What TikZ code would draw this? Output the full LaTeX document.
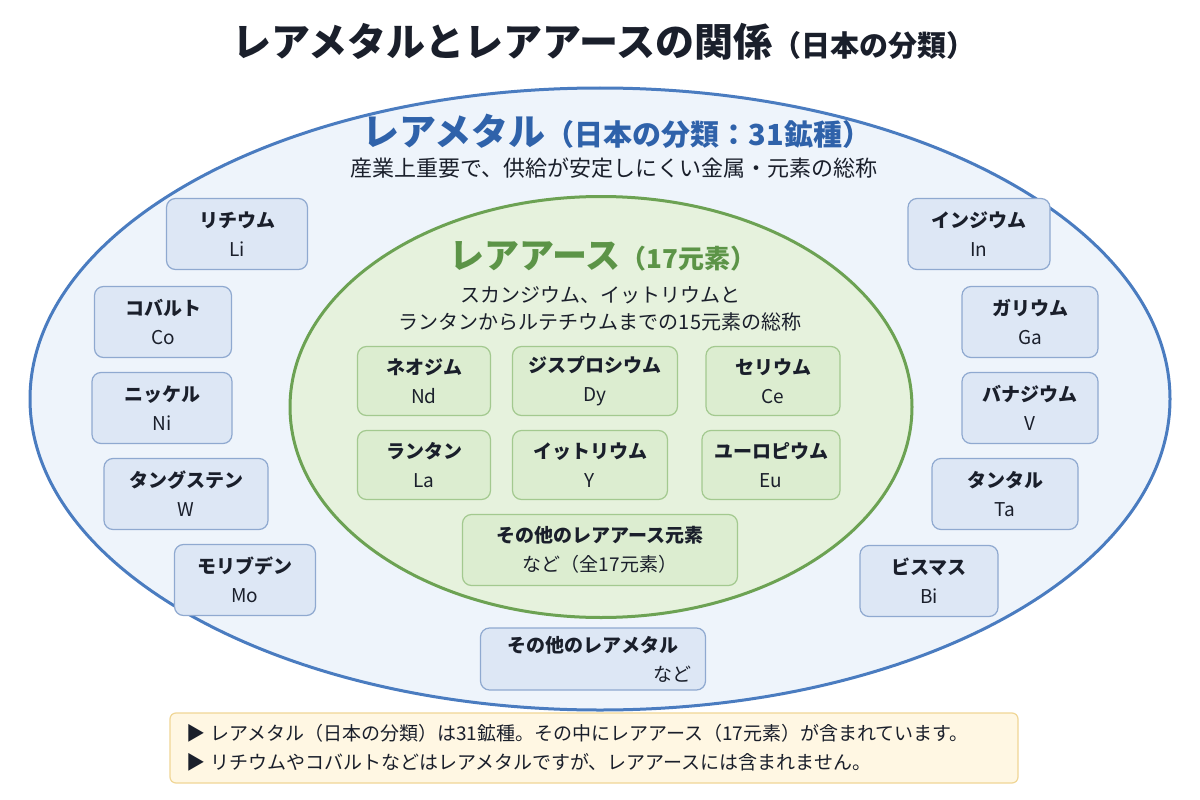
\documentclass[tikz,border=0pt]{standalone}
\usepackage{fontspec}
\setmainfont{Noto Sans CJK JP}
\usetikzlibrary{shapes.geometric, positioning}
\definecolor{metalline}{HTML}{4A7CC0}
\definecolor{metalfill}{HTML}{EEF4FB}
\definecolor{metaltext}{HTML}{2F62AA}
\definecolor{metalbox}{HTML}{DDE7F5}
\definecolor{metalboxline}{HTML}{8FA9D0}
\definecolor{earthline}{HTML}{6CA253}
\definecolor{earthfill}{HTML}{E6F2DD}
\definecolor{earthtext}{HTML}{5C9447}
\definecolor{earthbox}{HTML}{DCEDD0}
\definecolor{earthboxline}{HTML}{A3C98F}
\definecolor{notefill}{HTML}{FFF7E3}
\definecolor{noteline}{HTML}{F0D696}
\definecolor{inktext}{HTML}{1A1F2B}

\begin{document}
\begin{tikzpicture}[x=1pt, y=-1pt,
  elbox/.style={rounded corners=9pt, line width=1.2pt, minimum height=71pt,
    align=center, text=inktext, font=\fontsize{19}{29}\selectfont},
  metal/.style={elbox, draw=metalboxline, fill=metalbox},
  earth/.style={elbox, draw=earthboxline, fill=earthbox, minimum height=69pt}]
  \fill[white] (0,0) rectangle (1200,800);
  \useasboundingbox (0,0) rectangle (1200,800);

  % Title
  \node[font=\fontsize{39}{44}\selectfont\bfseries, text=inktext] (title) at (604,42)
    {レアメタルとレアアースの関係\fontsize{29}{34}\selectfont（日本の分類）};

  % Rare metals (outer)
  \node[ellipse, draw=metalline, fill=metalfill, line width=3pt,
    minimum width=1140pt, minimum height=622pt] (raremetal) at (600,399) {};
  \node[font=\fontsize{37}{42}\selectfont\bfseries, text=metaltext] (metalhead) at (617,131)
    {レアメタル\fontsize{29}{34}\selectfont（日本の分類：31鉱種）};
  \node[font=\fontsize{22}{26}\selectfont, text=inktext] (metalsub) at (614,168)
    {産業上重要で、供給が安定しにくい金属・元素の総称};

  % Rare earths (inner)
  \node[ellipse, draw=earthline, fill=earthfill, line width=3pt,
    minimum width=622pt, minimum height=421pt] (rareearth) at (601,407) {};
  \node[font=\fontsize{35}{40}\selectfont\bfseries, text=earthtext] (earthhead) at (603,256)
    {レアアース\fontsize{26}{30}\selectfont（17元素）};
  \node[font=\fontsize{20}{27}\selectfont, text=inktext, align=center] (earthsub) at (600,309)
    {スカンジウム、イットリウムと\\ランタンからルテチウムまでの15元素の総称};

  % Rare metal boxes
  \foreach \n/\cx/\cy/\w/\name/\sym in {
    li/237/234/141/リチウム/Li,
    co/163/322/137/コバルト/Co,
    ni/162/408/140/ニッケル/Ni,
    w/186/494/164/タングステン/W,
    mo/245/580/141/モリブデン/Mo,
    in/979/234/142/インジウム/In,
    ga/1030/322/136/ガリウム/Ga,
    v/1030/408/136/バナジウム/V,
    ta/1005/494/146/タンタル/Ta,
    bi/929/581/138/ビスマス/Bi} {
    \node[metal, minimum width=\w pt] (\n) at (\cx,\cy) {\textbf{\name}\\\sym};
  }
  \node[metal, minimum width=225pt, minimum height=62pt] (othermetal) at (593,659)
    {\textbf{その他のレアメタル}\\\hspace*{158pt}など};

  % Rare earth boxes
  \foreach \n/\cx/\cy/\w/\name/\sym in {
    nd/424/381/133/ネオジム/Nd,
    dy/595/381/165/ジスプロシウム/Dy,
    ce/773/381/134/セリウム/Ce,
    la/424/465/133/ランタン/La,
    y/590/465/155/イットリウム/Y,
    eu/771/465/138/ユーロピウム/Eu} {
    \node[earth, minimum width=\w pt] (\n) at (\cx,\cy) {\textbf{\name}\\\sym};
  }
  \node[earth, minimum width=275pt, minimum height=71pt] (otherearth) at (600,550)
    {\textbf{その他のレアアース元素}\\など（全17元素）};

  % Note
  \node[draw=noteline, fill=notefill, rounded corners=6pt, line width=1.2pt,
    minimum width=848pt, minimum height=70pt] (note) at (594,748) {};
  \node[anchor=west, font=\fontsize{19}{29}\selectfont, text=inktext, align=left] (notetext)
    at ([xshift=14pt]note.west)
    {▶ レアメタル（日本の分類）は31鉱種。その中にレアアース（17元素）が含まれています。\\
     ▶ リチウムやコバルトなどはレアメタルですが、レアアースには含まれません。};
\end{tikzpicture}
\end{document}
